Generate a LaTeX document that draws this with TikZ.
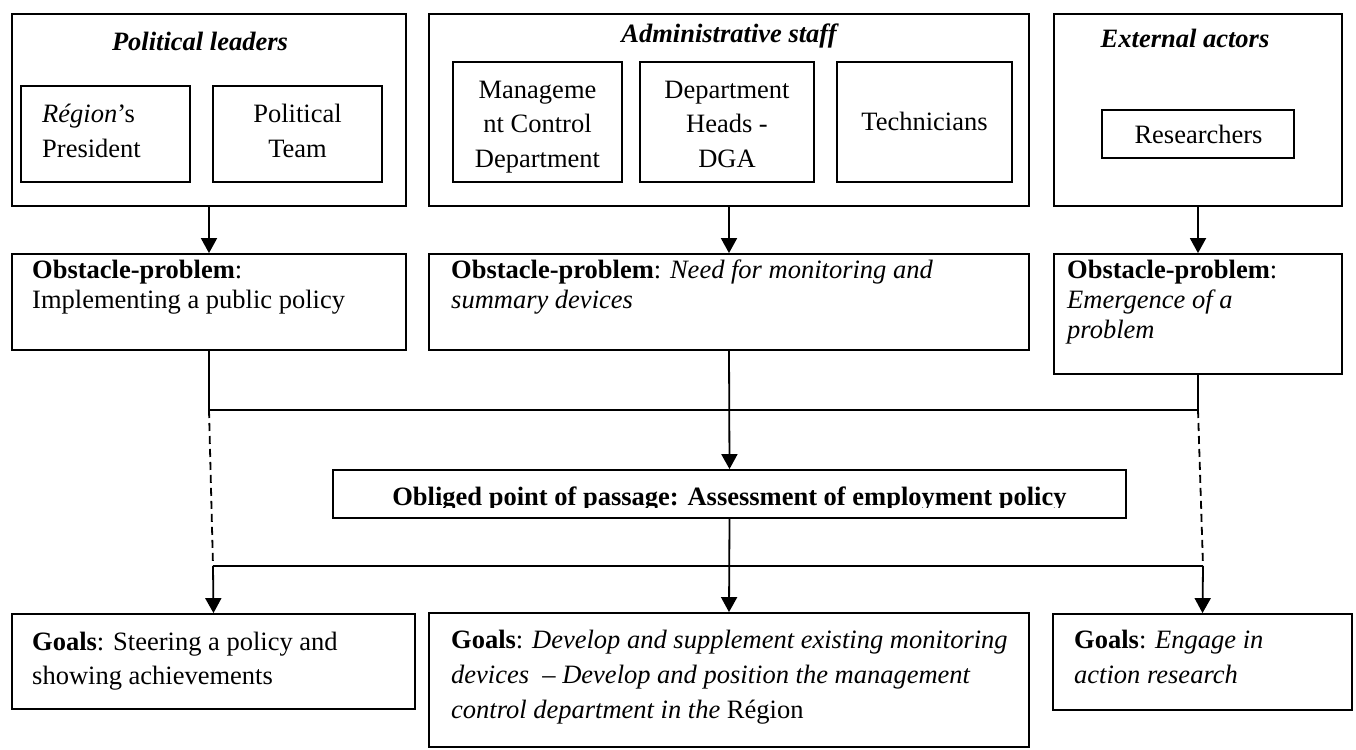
\documentclass[tikz,border=0pt]{standalone}
\usepackage{fontspec}
\setmainfont{Liberation Serif}
\usetikzlibrary{arrows.meta}
\begin{document}
\begin{tikzpicture}[x=1pt,y=-1pt,
  box/.style={draw, line width=1.8pt, inner sep=0pt},
  tx/.style={inner sep=0pt, font=\fontsize{26.5}{#1}\selectfont},
  tx/.default=33,
  ttl/.style={inner sep=0pt, font=\fontsize{26.5}{33}\selectfont\bfseries\itshape},
  conn/.style={line width=1.8pt},
  arr/.style={line width=1.8pt, -{Triangle[width=16pt,length=15pt]}},
  dsh/.style={line width=1.8pt, dash pattern=on 8pt off 5pt},
]
\useasboundingbox[fill=white] (0,0) rectangle (1356,749);

% ---------- top row ----------
\node[box, minimum width=394pt, minimum height=192pt] (pl) at (209,110) {};
\node[box, minimum width=600pt, minimum height=192pt] (as) at (729,110) {};
\node[box, minimum width=288pt, minimum height=192pt] (ea) at (1198,110) {};

\node[ttl, anchor=base] (plt) at (200,51) {Political leaders};
\node[ttl, anchor=base] (ast) at (729,43) {Administrative staff};
\node[ttl, anchor=base] (eat) at (1185,48) {External actors};

\node[box, minimum width=169pt, minimum height=96pt] (rp) at (105.5,134) {};
\node[box, minimum width=169pt, minimum height=96pt] (pt) at (297.5,134) {};
\node[tx=35, align=left, anchor=north west] (rpx) at (42,97.5) {\strut\textit{Région}’s\\President};
\node[tx=35, align=center, anchor=north] (ptx) at (297.5,97.5) {\strut Political\\Team};

\node[box, minimum width=169pt, minimum height=120pt] (mc) at (537.5,122) {};
\node[box, minimum width=174pt, minimum height=120pt] (dh) at (727,122) {};
\node[box, minimum width=175pt, minimum height=120pt] (te) at (924.5,122) {};
\node[tx=34.5, align=center, anchor=north] (mcx) at (537.5,73.85) {\strut Manageme\\nt Control\\Department};
\node[tx=34.5, align=center, anchor=north] (dhx) at (727,73.85) {\strut Department\\Heads -\\DGA};
\node[tx, anchor=base] (tex) at (924.5,131) {Technicians};

\node[box, minimum width=192pt, minimum height=48pt] (re) at (1198,134) {};
\node[tx, anchor=base] (rex) at (1198.5,143) {Researchers};

% ---------- middle row ----------
\node[box, minimum width=394pt, minimum height=96pt] (o1) at (209,302) {};
\node[box, minimum width=600pt, minimum height=96pt] (o2) at (729,302) {};
\node[box, minimum width=288pt, minimum height=120pt] (o3) at (1198,314) {};
\node[tx=30, align=left, anchor=north west] (o1x) at (32,257) {\strut\textbf{Obstacle-problem}:\\Implementing a public policy};
\node[tx=30, align=left, anchor=north west] (o2x) at (451,257) {\strut\textbf{Obstacle-problem}: \textit{Need for monitoring and}\\\textit{summary devices}};
\node[tx=30, align=left, anchor=north west] (o3x) at (1067,257) {\strut\textbf{Obstacle-problem}:\\\textit{Emergence of a}\\\textit{problem}};

% ---------- obliged point of passage ----------
\node[box, minimum width=793pt, minimum height=48pt] (opp) at (729.5,494) {};
\begin{scope}
  \clip (333,470) rectangle (1126,507.5);
  \node[tx, anchor=base, font=\fontsize{26.5}{33}\selectfont\bfseries] (oppx) at (729.5,505) {Obliged point of passage: Assessment of employment policy};
\end{scope}

% ---------- goals ----------
\node[box, minimum width=403pt, minimum height=95pt] (g1) at (213.5,661.5) {};
\node[box, minimum width=600pt, minimum height=134pt] (g2) at (729,680) {};
\node[box, minimum width=299pt, minimum height=96pt] (g3) at (1202.5,662) {};
\node[tx=34, align=left, anchor=north west] (g1x) at (32,626.5) {\strut\textbf{Goals}: Steering a policy and\\showing achievements};
\node[tx=35, align=left, anchor=north west] (g2x) at (451,623.5) {\strut\textbf{Goals}: \textit{Develop and supplement existing monitoring}\\\textit{devices\ \ – Develop and position the management}\\\textit{control department in the} Région};
\node[tx=35, align=left, anchor=north west] (g3x) at (1074,623.5) {\strut\textbf{Goals}: \textit{Engage in}\\\textit{action research}};

% ---------- connectors ----------
\coordinate (j1l) at (209,410);
\coordinate (j1r) at (1198,410);
\coordinate (j2l) at (213,566);
\coordinate (j2r) at (1203,566);

\draw[arr] (pl.south) -- (o1.north);
\draw[arr] (as.south) -- (o2.north);
\draw[arr] (ea.south) -- (o3.north);

\draw[conn] (o1.south) -- (j1l) -- (j1r) -- (o3.south);
\draw[arr] (o2.south) -- (opp.north);
\draw[dsh] (j1l) -- (j2l);
\draw[dsh] (j1r) -- (j2r);

\draw[conn] (j2l) -- (j2r);
\draw[arr] (opp.south) -- (g2.north);
\draw[arr] (j2l) -- (g1.north);
\draw[arr] (j2r) -- (g3.north);
\end{tikzpicture}
\end{document}
